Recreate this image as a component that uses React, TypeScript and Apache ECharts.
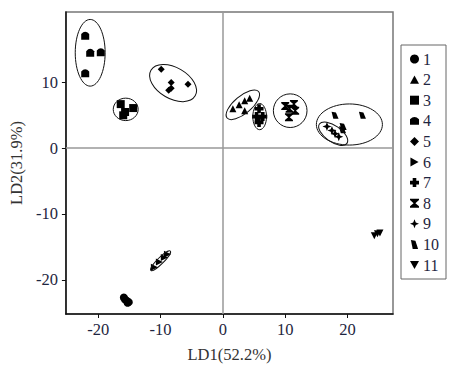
import React, { useEffect, useRef } from "react";
import * as echarts from "echarts";

const groupNames = ["1", "2", "3", "4", "5", "6", "7", "8", "9", "10", "11"];
const g1X = [-15.9, -15.4, -15.1, -15.7, -15.3];
const g1Y = [-22.7, -23.2, -23.4, -23.0, -23.5];
const g2X = [1.6, 2.6, 3.5, 3.5, 4.3];
const g2Y = [6.0, 6.6, 7.2, 5.7, 7.6];
const g3X = [-16.4, -15.7, -14.4, -16.0];
const g3Y = [6.7, 5.5, 6.1, 5.0];
const g4X = [-22.1, -21.3, -19.6, -22.1];
const g4Y = [17.1, 14.5, 14.6, 11.4];
const g5X = [-9.9, -8.3, -5.6, -8.3, -8.7];
const g5Y = [12.0, 10.0, 9.7, 9.1, 8.8];
const g6X = [-11.0, -10.2, -9.4, -8.9];
const g6Y = [-18.1, -17.3, -16.6, -16.1];
const g7X = [5.8, 5.4, 6.4, 5.8];
const g7Y = [6.0, 4.8, 4.8, 3.9];
const g8X = [10.0, 11.4, 10.7, 11.6, 10.6];
const g8Y = [6.4, 6.7, 6.0, 5.7, 4.7];
const g9X = [16.7, 17.5, 18.0, 18.6];
const g9Y = [3.3, 2.7, 2.2, 1.75];
const g10X = [18.0, 22.4, 19.3, 19.2];
const g10Y = [5.0, 5.0, 3.3, 2.8];
const g11X = [24.3, 24.8, 25.2];
const g11Y = [-13.3, -13.0, -12.9];

// confidence ellipses: centre (data), semi-axes (x-axis units), angle (deg)
const ellipseCX = [-21.3, -15.6, -8.0, 3.2, 5.9, 10.8, 20.3, 17.7, -10.0];
const ellipseCY = [14.5, 5.9, 9.9, 6.6, 4.8, 5.7, 3.6, 2.2, -17.1];
const ellipseA = [2.4, 2.0, 4.1, 3.3, 1.1, 2.7, 5.3, 2.7, 2.2];
const ellipseB = [5.35, 1.8, 2.5, 1.4, 2.1, 2.7, 3.3, 1.3, 0.5];
const ellipseAngle = [0, 0, -30, 40, 0, 0, 0, -35, 45];

const xTicks = [-20, -10, 0, 10, 20];
const yTicks = [-20, -10, 0, 10];

const allX = [g1X, g2X, g3X, g4X, g5X, g6X, g7X, g8X, g9X, g10X, g11X];
const allY = [g1Y, g2Y, g3Y, g4Y, g5Y, g6Y, g7Y, g8Y, g9Y, g10Y, g11Y];

const symbols = [
  "circle",
  "path://M5,0 L10,9 L0,9 Z",
  "rect",
  "path://M0,4 Q5,-1 10,4 L10,10 L0,10 Z",
  "diamond",
  "path://M0,0 L9,5 L0,10 Z",
  "path://M3,0 H7 V3 H10 V7 H7 V10 H3 V7 H0 V3 H3 Z",
  "path://M0,0 H10 V1.5 L6,5 L10,8.5 V10 H0 V8.5 L4,5 L0,1.5 Z",
  "path://M5,0 L6.4,3.6 L10,5 L6.4,6.4 L5,10 L3.6,6.4 L0,5 L3.6,3.6 Z",
  "path://M0,0 L5,1 L8,10 L2,10 Z",
  "path://M0,0 L10,0 L5,9 Z",
];
const sizes = [8, 7, 8, 8, 7, 7, 9, 8, 9, 7, 7];

const FONT = "'Liberation Serif', 'DejaVu Serif', serif";
const TXT = "#1e2540";

export default function App() {
  const ref = useRef<HTMLDivElement>(null);
  useEffect(() => {
    if (!ref.current) return;
    const chart = echarts.init(ref.current, null, { renderer: "svg" });
    const scatter = groupNames.map((name, i) => ({
      name,
      type: "scatter",
      symbol: symbols[i],
      symbolSize: sizes[i],
      itemStyle: { color: "#000", opacity: 1 },
      z: 3,
      data: allX[i].map((x, j) => [x, allY[i][j]]),
      ...(i === 0
        ? {
            markLine: {
              silent: true,
              symbol: "none",
              label: { show: false },
              lineStyle: { color: "#999", type: "solid", width: 1.5 },
              data: [{ xAxis: 0 }, { yAxis: 0 }],
            },
          }
        : {}),
    }));
    const ellipses = {
      type: "custom",
      name: "ellipses",
      z: 4,
      silent: true,
      data: ellipseCX.map((cx, i) => [cx, ellipseCY[i], ellipseA[i], ellipseB[i], ellipseAngle[i]]),
      renderItem: (params: any, api: any) => {
        const c = api.coord([api.value(0), api.value(1)]);
        const s = api.size([1, 1]);
        return {
          type: "ellipse",
          x: c[0],
          y: c[1],
          rotation: (api.value(4) * Math.PI) / 180,
          shape: { cx: 0, cy: 0, rx: api.value(2) * s[0], ry: api.value(3) * s[0] },
          style: { fill: "none", stroke: "#111", lineWidth: 1 },
        };
      },
    };
    chart.setOption({
      animation: false,
      grid: {
        left: 64,
        right: 70,
        top: 12,
        bottom: 50,
        show: true,
        borderColor: "#777",
        borderWidth: 1.5,
      },
      legend: {
        data: groupNames,
        orient: "vertical",
        left: 401,
        top: 45,
        padding: [6, 7, 6, 9],
        borderColor: "#666",
        borderWidth: 1,
        itemWidth: 9,
        itemHeight: 9,
        itemGap: 4.6,
        itemStyle: { color: "#000", opacity: 1 },
        textStyle: { fontFamily: FONT, fontSize: 16, color: TXT, padding: [0, 0, 0, -1] },
      },
      xAxis: {
        type: "value",
        min: -25.2,
        max: 27.3,
        name: "LD1(52.2%)",
        nameLocation: "middle",
        nameGap: 32,
        nameTextStyle: { fontFamily: FONT, fontSize: 16.5, color: "#333" },
        splitLine: { show: false },
        axisLine: { show: true, onZero: false, lineStyle: { color: "#111", width: 1.5 } },
        axisTick: { show: true, length: 4, customValues: xTicks, lineStyle: { color: "#111" } },
        axisLabel: { customValues: xTicks, margin: 7, fontFamily: FONT, fontSize: 16.5, color: TXT },
      },
      yAxis: {
        type: "value",
        min: -25.2,
        max: 20.7,
        name: "LD2(31.9%)",
        nameLocation: "middle",
        nameGap: 34,
        nameTextStyle: { fontFamily: FONT, fontSize: 16.5, color: "#333" },
        splitLine: { show: false },
        axisLine: { show: true, onZero: false, lineStyle: { color: "#111", width: 1.5 } },
        axisTick: { show: true, length: 4, customValues: yTicks, lineStyle: { color: "#111" } },
        axisLabel: { customValues: yTicks, margin: 8, fontFamily: FONT, fontSize: 16.5, color: TXT },
      },
      series: [...scatter, ellipses],
    });
    return () => chart.dispose();
  }, []);
  return <div ref={ref} style={{ width: 463, height: 368, position: "absolute", left: 0, top: 0 }} />;
}
